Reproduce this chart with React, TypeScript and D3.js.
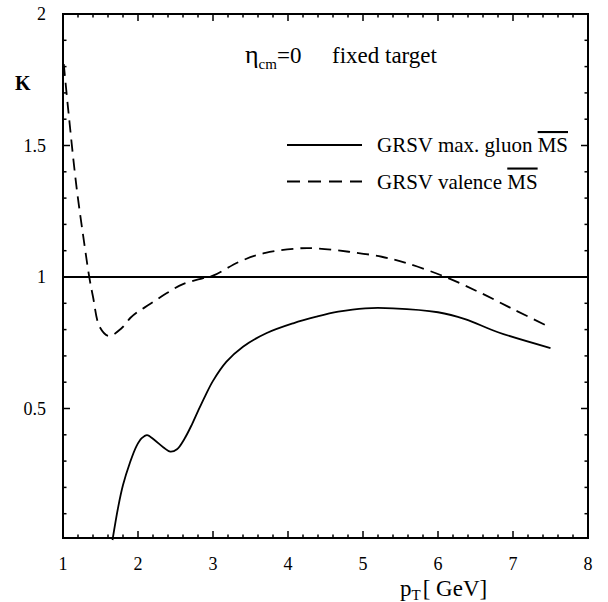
import * as d3 from 'd3'
import { useEffect, useRef } from 'react'

// GRSV max. gluon (solid)
const gluonPt = [1.66, 1.737, 1.8, 1.89, 1.98, 2.05, 2.12, 2.22, 2.34, 2.43, 2.52, 2.62, 2.72, 2.8, 2.9, 3.0, 3.18, 3.4, 3.71, 4.07, 4.38, 4.67, 5.03, 5.4, 6.0, 6.36, 6.8, 7.5]
const gluonK = [0, 0.127, 0.209, 0.292, 0.357, 0.387, 0.399, 0.38, 0.352, 0.336, 0.345, 0.385, 0.44, 0.49, 0.55, 0.605, 0.678, 0.735, 0.786, 0.824, 0.849, 0.868, 0.881, 0.881, 0.866, 0.84, 0.79, 0.73]

// GRSV valence (dashed)
const valencePt = [1.01, 1.07, 1.18, 1.29, 1.35, 1.4, 1.49, 1.61, 1.78, 1.9, 2.0, 2.16, 2.38, 2.6, 2.86, 3.0, 3.35, 3.7, 4.15, 4.37, 4.81, 5.25, 5.59, 6.1, 6.58, 7.02, 7.45]
const valenceK = [1.81, 1.635, 1.343, 1.115, 1.0, 0.925, 0.81, 0.776, 0.805, 0.845, 0.868, 0.897, 0.938, 0.973, 0.995, 1.005, 1.058, 1.092, 1.109, 1.109, 1.096, 1.077, 1.052, 1.0, 0.938, 0.875, 0.815]

const xTicks = [1, 2, 3, 4, 5, 6, 7, 8]
const yTicks = [0.5, 1, 1.5, 2]
const yTickLabels = ['0.5', '1', '1.5', '2']

const W = 608
const H = 602
const FONT = '"Liberation Serif", "Times New Roman", serif'

export default function App() {
  const ref = useRef<SVGSVGElement | null>(null)

  useEffect(() => {
    const svgEl = ref.current
    if (!svgEl) return
    const svg = d3.select(svgEl)
    svg.selectAll('*').remove()

    const x = d3.scaleLinear().domain([1, 8]).range([63, 588])
    const y = d3.scaleLinear().domain([0, 2]).range([540, 14])
    const bottom = 538

    const g = svg.append('g')

    // frame
    g.append('rect')
      .attr('x', x(1))
      .attr('y', y(2))
      .attr('width', x(8) - x(1))
      .attr('height', bottom - y(2))
      .attr('fill', 'none')
      .attr('stroke', '#000')
      .attr('stroke-width', 2)

    // ticks on all four sides, pointing inward
    const xMinor = d3.range(1, 8.001, 0.2)
    for (const v of xMinor) {
      const major = Math.abs(v - Math.round(v)) < 1e-6
      const len = major ? 7 : 3.5
      g.append('line').attr('x1', x(v)).attr('x2', x(v)).attr('y1', bottom).attr('y2', bottom - len).attr('stroke', '#000').attr('stroke-width', 1.5)
      g.append('line').attr('x1', x(v)).attr('x2', x(v)).attr('y1', y(2)).attr('y2', y(2) + len).attr('stroke', '#000').attr('stroke-width', 1.5)
    }
    const yMinor = d3.range(0.1, 2.001, 0.1)
    for (const v of yMinor) {
      const major = Math.abs(v * 2 - Math.round(v * 2)) < 1e-6
      const len = major ? 7 : 3.5
      g.append('line').attr('x1', x(1)).attr('x2', x(1) + len).attr('y1', y(v)).attr('y2', y(v)).attr('stroke', '#000').attr('stroke-width', 1.5)
      g.append('line').attr('x1', x(8)).attr('x2', x(8) - len).attr('y1', y(v)).attr('y2', y(v)).attr('stroke', '#000').attr('stroke-width', 1.5)
    }

    // K = 1 reference line
    g.append('line')
      .attr('x1', x(1))
      .attr('x2', x(8))
      .attr('y1', y(1))
      .attr('y2', y(1))
      .attr('stroke', '#000')
      .attr('stroke-width', 2)

    // tick labels
    xTicks.forEach((v) => {
      g.append('text')
        .attr('x', x(v))
        .attr('y', 570)
        .attr('text-anchor', 'middle')
        .attr('font-family', FONT)
        .attr('font-size', 18)
        .text(String(v))
    })
    yTicks.forEach((v, i) => {
      g.append('text')
        .attr('x', 46)
        .attr('y', y(v) + 6)
        .attr('text-anchor', 'end')
        .attr('font-family', FONT)
        .attr('font-size', 18)
        .text(yTickLabels[i])
    })

    // curves
    const line = d3
      .line<[number, number]>()
      .x((d) => x(d[0]))
      .y((d) => y(d[1]))
      .curve(d3.curveCatmullRom.alpha(0.5))

    g.append('path')
      .attr('d', line(gluonPt.map((p, i) => [p, gluonK[i]]))!)
      .attr('fill', 'none')
      .attr('stroke', '#000')
      .attr('stroke-width', 1.8)

    g.append('path')
      .attr('d', line(valencePt.map((p, i) => [p, valenceK[i]]))!)
      .attr('fill', 'none')
      .attr('stroke', '#000')
      .attr('stroke-width', 1.8)
      .attr('stroke-dasharray', '12,7')

    // axis titles
    g.append('text')
      .attr('x', 15)
      .attr('y', 90)
      .attr('font-family', FONT)
      .attr('font-size', 20)
      .attr('font-weight', 'bold')
      .text('K')

    const xl = g.append('text').attr('x', 400).attr('y', 596).attr('font-family', FONT).attr('font-size', 23)
    xl.append('tspan').text('p')
    xl.append('tspan').attr('font-size', 15).attr('dy', 4).text('T')
    xl.append('tspan').attr('dy', -4).attr('dx', 2).text('[ GeV]')

    // title
    const t = g.append('text').attr('x', 245).attr('y', 63).attr('font-family', FONT).attr('font-size', 23)
    t.append('tspan').attr('font-size', 26).text('η')
    t.append('tspan').attr('font-size', 15).attr('dy', 6).text('cm')
    t.append('tspan').attr('dy', -6).text('=0')
    t.append('tspan').attr('x', 332).text('fixed target')

    // legend
    const legend = [
      { label: 'GRSV max. gluon ', dash: 'none', y: 145 },
      { label: 'GRSV valence ', dash: '13,8', y: 181.5 },
    ]
    legend.forEach((d) => {
      g.append('line')
        .attr('x1', 287)
        .attr('x2', 362)
        .attr('y1', d.y)
        .attr('y2', d.y)
        .attr('stroke', '#000')
        .attr('stroke-width', 1.8)
        .attr('stroke-dasharray', d.dash)
      const txt = g.append('text').attr('x', 377).attr('y', d.y + 7).attr('font-family', FONT).attr('font-size', 21)
      txt.append('tspan').text(d.label)
      txt.append('tspan').attr('text-decoration', 'overline').text('MS')
    })
  }, [])

  return <svg ref={ref} width={W} height={H} style={{ position: 'absolute', left: 0, top: 0, background: '#fff' }} />
}
